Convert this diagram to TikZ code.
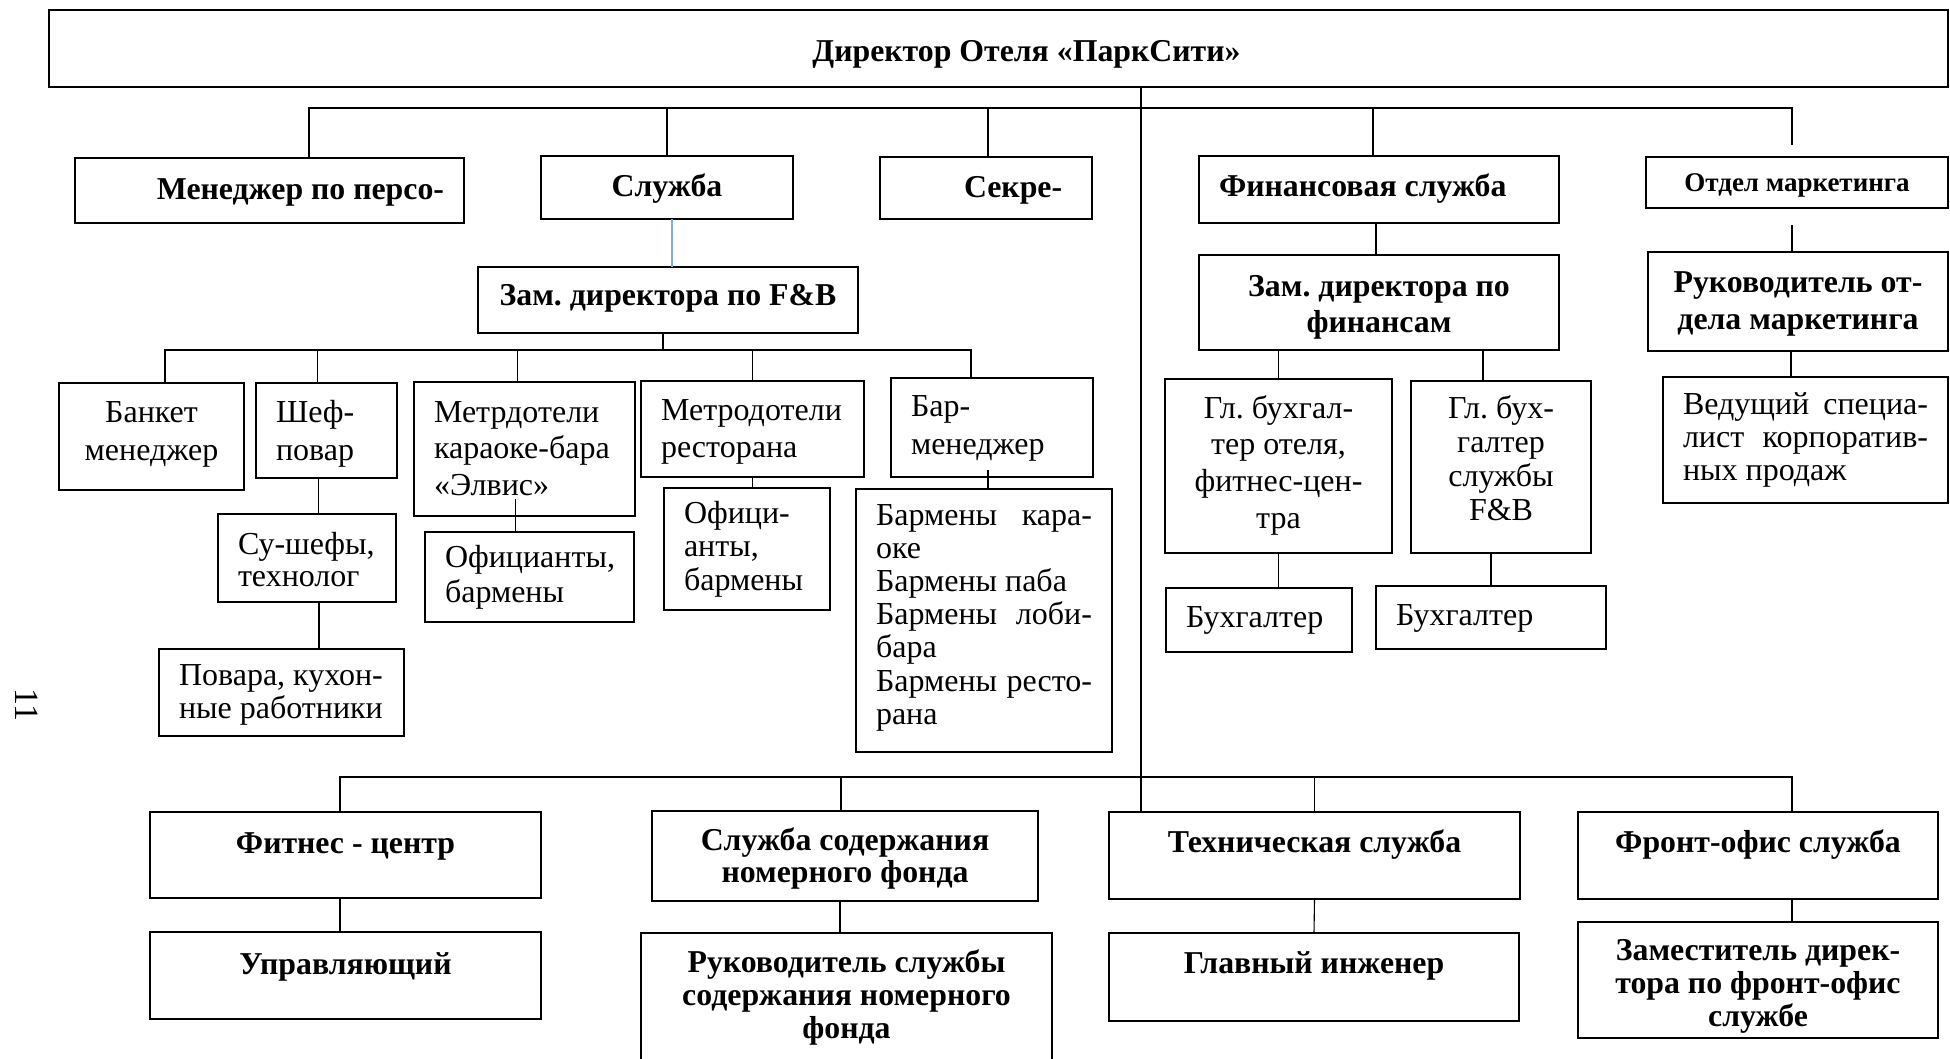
\documentclass[tikz,border=0pt]{standalone}
\usepackage{fontspec}
\setmainfont{Liberation Serif}
\usetikzlibrary{calc}
\frenchspacing

\definecolor{linkblue}{RGB}{125,170,221}

\begin{document}
\begin{tikzpicture}[
    x=1pt, y=-1pt,
    every node/.style={inner xsep=20pt, inner ysep=0pt, outer sep=0pt, anchor=north west},
    head/.style={draw, line width=2.4pt, align=flush center, font=\bfseries\fontsize{31.8}{33}\selectfont},
    unit/.style={draw, line width=1.3pt, align=flush left, font=\fontsize{32}{37}\selectfont},
    boxdim/.style n args={3}{minimum width=#1, text width=#1-40, text height=#2, text depth=#3},
    link/.style={line width=1.1pt}
]
    \useasboundingbox (0,0) rectangle (1950,1059);

    % Director
    \node[head, boxdim={1899}{52}{25}] (dir) at (49,10) {\hspace*{56pt}Директор Отеля «ПаркСити»};

    % First level
    \node[head, align=flush right, boxdim={389}{42}{23}] (pers) at (75,158) {Менеджер по~персо-};
    \node[head, boxdim={252}{41}{22}] (sluzhba) at (541,156) {Служба};
    \node[head, align=flush left, boxdim={212}{41}{21}] (sekr) at (880,157) {\hspace*{64pt}Секре-};
    \node[head, align=flush left, boxdim={360}{41}{26}] (fin) at (1199,156) {Финансовая служба};
    \node[head, font=\bfseries\fontsize{27}{30}\selectfont, boxdim={302}{35}{16}] (mark) at (1646,157) {Отдел маркетинга};

    % Deputies
    \node[head, boxdim={380}{38}{28}, inner xsep=6pt, text width=368] (zamfb) at (478,267) {Зам. директора по~F\&B};
    \node[head, font=\bfseries\fontsize{31.8}{36}\selectfont, boxdim={360}{41}{54}] (zamfin) at (1199,255) {Зам. директора по\\финансам};
    \node[head, font=\bfseries\fontsize{31.8}{37}\selectfont, boxdim={300}{40}{59}, inner xsep=6pt, text width=288] (rukmark) at (1648,252) {Руководитель~от-\\дела маркетинга};

    % F&B staff
    \node[unit, align=flush center, font=\fontsize{32}{38}\selectfont, boxdim={185}{39}{68}] (bank) at (59,383) {Банкет\\менеджер};
    \node[unit, font=\fontsize{32}{38}\selectfont, boxdim={141}{39}{56}] (chef) at (256,383) {Шеф-\\повар};
    \node[unit, font=\fontsize{32}{32}\selectfont, boxdim={178}{40}{48}] (sous) at (218,514) {Су-шефы,\\технолог};
    \node[unit, font=\fontsize{32}{33}\selectfont, boxdim={245}{36}{51}] (cooks) at (159,649) {Повара,~кухон-\\ные~работники};
    \node[unit, font=\fontsize{32}{36.5}\selectfont, boxdim={221}{40}{94}] (metrk) at (414,382) {Метрдотели\\караоке-бара\\«Элвис»};
    \node[unit, font=\fontsize{32}{35}\selectfont, boxdim={209}{35}{55}] (ofic1) at (425,532) {Официанты,\\бармены};
    \node[unit, boxdim={223}{39}{57}] (metrr) at (641,381) {Метродотели\\ресторана};
    \node[unit, font=\fontsize{32}{33.5}\selectfont, boxdim={166}{35}{87}] (ofic2) at (664,488) {Офици-\\анты,\\бармены};
    \node[unit, font=\fontsize{32}{38}\selectfont, boxdim={202}{38}{61}] (barm) at (891,378) {Бар-\\менеджер};
    \node[unit, font=\fontsize{32}{33.2}\selectfont, boxdim={256}{36}{227}] (barmen) at (856,489) {Бармены\hfill кара-\\оке\\Бармены~паба\\Бармены\hfill лоби-\\бара\\Бармены\hfill ресто-\\рана};

    % Finance and marketing staff
    \node[unit, align=flush center, font=\fontsize{32}{36.7}\selectfont, boxdim={227}{39}{135}] (glb1) at (1165,379) {Гл. бухгал-\\тер отеля,\\фитнес-цен-\\тра};
    \node[unit, align=flush center, font=\fontsize{32}{34}\selectfont, boxdim={180}{37}{135}] (glb2) at (1411,381) {Гл. бух-\\галтер\\службы\\F\&B};
    \node[unit, boxdim={186}{39}{25}] (buh1) at (1166,588) {Бухгалтер};
    \node[unit, boxdim={230}{39}{24}] (buh2) at (1376,586) {Бухгалтер};
    \node[unit, font=\fontsize{32}{33}\selectfont, boxdim={285}{37}{89}] (ved) at (1663,377) {Ведущий\hfill специа-\\лист\hfill корпоратив-\\ных продаж};

    % Lower services
    \node[head, boxdim={391}{41}{45}] (fit) at (150,812) {Фитнес - центр};
    \node[head, boxdim={391}{42}{45}] (upr) at (150,932) {Управляющий};
    \node[head, font=\bfseries\fontsize{31.8}{32}\selectfont, boxdim={386}{39}{51}] (hk) at (652,811) {Служба содержания\\номерного фонда};
    \node[head, boxdim={411}{39}{111}] (rukhk) at (641,933) {Руководитель службы\\содержания номерного\\фонда};
    \node[head, boxdim={411}{40}{47}] (tech) at (1109,812) {Техническая служба};
    \node[head, boxdim={410}{40}{48}] (eng) at (1109,933) {Главный инженер};
    \node[head, boxdim={360}{40}{47}] (front) at (1578,812) {Фронт-офис служба};
    \node[head, boxdim={360}{38}{78}] (zamfront) at (1578,922) {Заместитель дирек-\\тора по фронт-офис\\службе};

    % Page number
    \node[anchor=center, inner sep=0pt, rotate=-90, font=\fontsize{34}{34}\selectfont] (page) at (27,705) {11};

    % Bus lines
    \coordinate (spine) at (1141,400);
    \coordinate (top-w) at (309,108);
    \coordinate (top-e) at (1792,108);
    \coordinate (mark-stub) at (1792,145);
    \coordinate (fb-w) at (165,350);
    \coordinate (fb-e) at (971,350);
    \coordinate (low-w) at (340,777);
    \coordinate (low-e) at (1792,777);

    % Top level links
    \draw[link] (dir.south -| spine) -- (tech.north -| spine);
    \draw[link] (pers.north -| top-w) -- (top-w) -- (top-e) -- (mark-stub);
    \draw[link] (sluzhba.north) -- (sluzhba.north |- top-w);
    \draw[link] ([xshift=2pt]sekr.north) -- ([xshift=2pt]sekr.north |- top-w);
    \draw[link] ([xshift=-6pt]fin.north) -- ([xshift=-6pt]fin.north |- top-w);

    % F&B links
    \draw[link, linkblue, line width=1.6pt] ([xshift=5pt]sluzhba.south) -- ([xshift=5pt]sluzhba.south |- zamfb.north);
    \draw[link] ([xshift=-5pt]zamfb.south) -- ([xshift=-5pt]zamfb.south |- fb-w);
    \draw[link] (bank.north -| fb-w) -- (fb-w) -- (fb-e) -- (barm.north -| fb-e);
    \draw[link] ([xshift=-9pt]chef.north) -- ([xshift=-9pt]chef.north |- fb-w);
    \draw[link] ([xshift=-7pt]metrk.north) -- ([xshift=-7pt]metrk.north |- fb-w);
    \draw[link] (metrr.north) -- (metrr.north |- fb-w);
    \draw[link] ([xshift=-8pt]chef.south) -- ([xshift=-8pt]chef.south |- sous.north);
    \draw[link] ([xshift=12pt]sous.south) -- ([xshift=12pt]sous.south |- cooks.north);
    \draw[link] ([xshift=-14pt]ofic1.north) -- ++(0,-33);
    \draw[link] (metrr.south) -- (metrr.south |- ofic2.north);
    \draw[link] ([xshift=4pt]barmen.north) -- ++(0,-19);

    % Finance and marketing links
    \draw[link] ([xshift=-3pt]fin.south) -- ([xshift=-3pt]fin.south |- zamfin.north);
    \draw[link] (glb1.north) -- (glb1.north |- zamfin.south);
    \draw[link] ([xshift=-18pt]glb2.north) -- ([xshift=-18pt]glb2.north |- zamfin.south);
    \draw[link] (glb1.south) -- (glb1.south |- buh1.north);
    \draw[link] (buh2.north) -- (buh2.north |- glb2.south);
    \draw[link] ([xshift=-6pt]rukmark.north) -- ++(0,-27);
    \draw[link] ([xshift=-7pt]rukmark.south) -- ([xshift=-7pt]rukmark.south |- ved.north);

    % Lower links
    \draw[link] (fit.north -| low-w) -- (low-w) -- (low-e) -- (front.north -| low-e);
    \draw[link] ([xshift=-4pt]hk.north) -- ([xshift=-4pt]hk.north |- low-w);
    \draw[link] (tech.north) -- (tech.north |- low-w);
    \draw[link] (fit.south -| low-w) -- (upr.north -| low-w);
    \draw[link] ([xshift=-5pt]hk.south) -- ([xshift=-5pt]hk.south |- rukhk.north);
    \draw[link] (tech.south) -- (eng.north);
    \draw[link] (front.south -| low-e) -- (zamfront.north -| low-e);
\end{tikzpicture}
\end{document}
